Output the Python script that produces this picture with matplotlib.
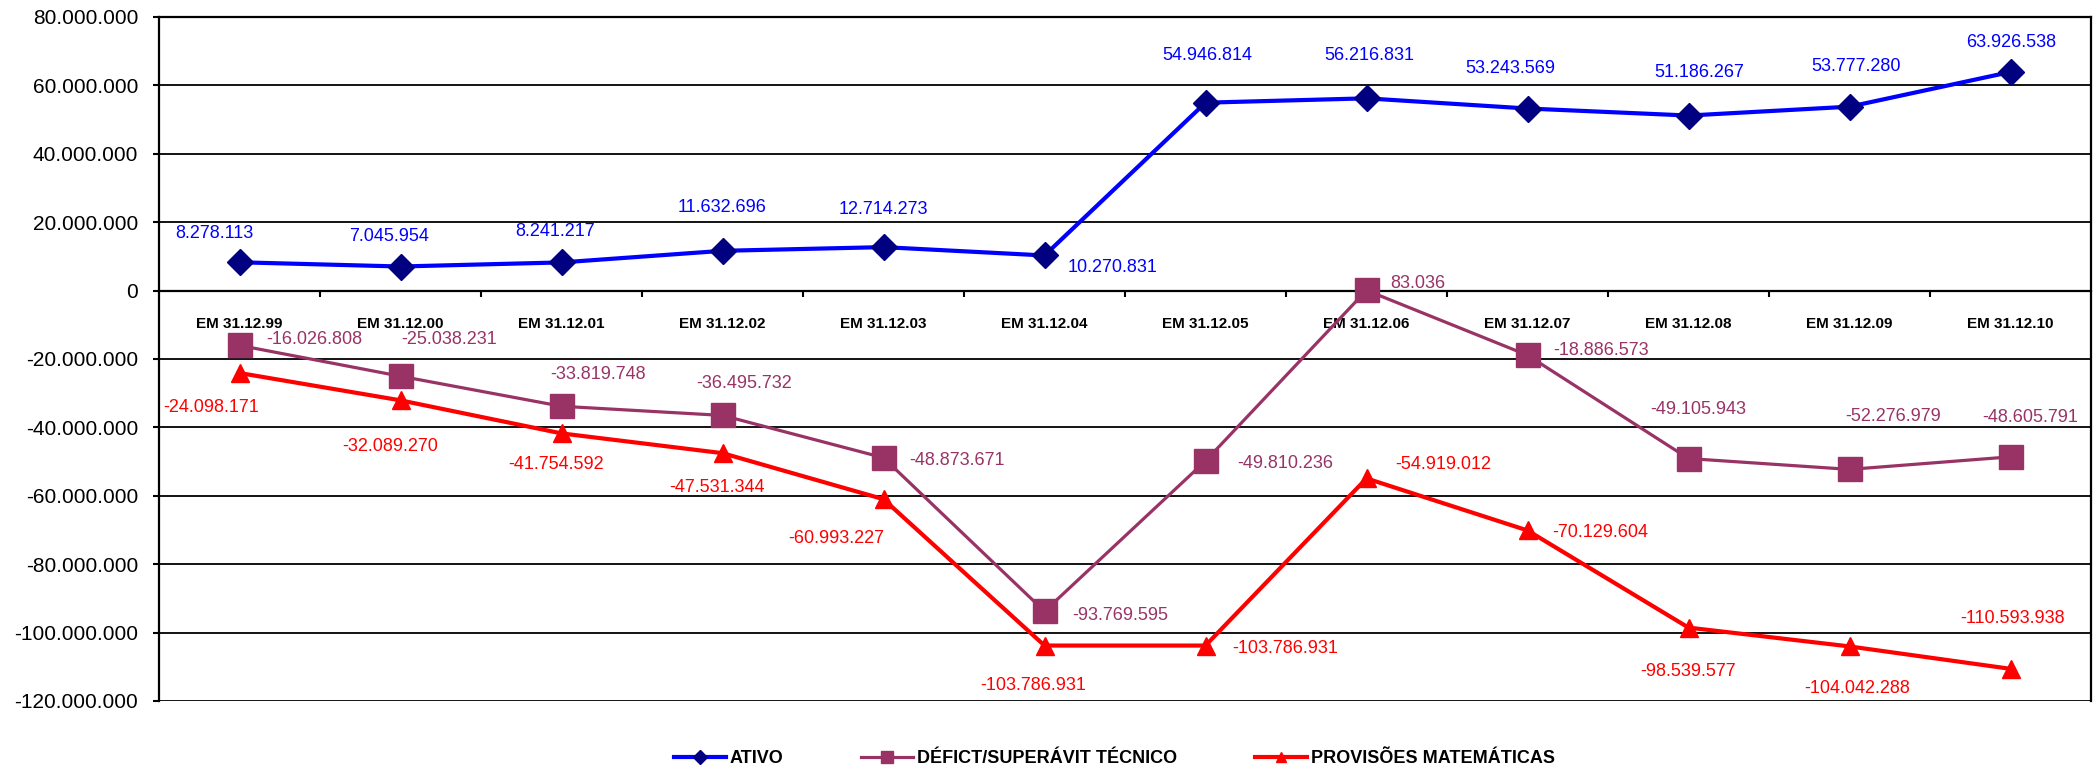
import numpy as np
import matplotlib
matplotlib.use('Agg')
import matplotlib.pyplot as plt
from matplotlib import ticker
from matplotlib import rcParams

rcParams['font.family'] = ['Liberation Sans', 'DejaVu Sans']

#%% data
categorias = ['EM 31.12.99', 'EM 31.12.00', 'EM 31.12.01', 'EM 31.12.02',
              'EM 31.12.03', 'EM 31.12.04', 'EM 31.12.05', 'EM 31.12.06',
              'EM 31.12.07', 'EM 31.12.08', 'EM 31.12.09', 'EM 31.12.10']

ativo = [8278113, 7045954, 8241217, 11632696, 12714273, 10270831,
         54946814, 56216831, 53243569, 51186267, 53777280, 63926538]

deficit = [-16026808, -25038231, -33819748, -36495732, -48873671, -93769595,
           -49810236, 83036, -18886573, -49105943, -52276979, -48605791]

provisoes = [-24098171, -32089270, -41754592, -47531344, -60993227, -103786931,
             -103786931, -54919012, -70129604, -98539577, -104042288, -110593938]

# label offsets in pixels (dx, dy down)
off_ativo = [(-25, -29), (-11, -30), (-6, -31), (0, -43), (0, -38), (68, 12),
             (2, -47), (3, -43), (-17, -40), (11, -43), (7, -40), (1, -29)]
off_deficit = [(75, -6), (49, -37), (37, -32), (22, -32), (74, 3), (76, 4),
               (80, 3), (51, -7), (74, -5), (10, -49), (44, -53), (20, -39)]
off_prov = [(-28, 34), (-10, 46), (-5, 31), (-5, 34), (-47, 39), (-11, 40),
            (80, 3), (77, -14), (73, 2), (0, 44), (8, 42), (2, -50)]

def fmt(v, pos=None):
    return f'{int(round(v)):,}'.replace(',', '.')

#%%
fig = plt.figure(figsize=(20.98, 7.71), dpi=100)
ax = fig.add_axes([159/2098, 70/771, 1932/2098, 684/771])

x = np.arange(len(categorias))

series = [
    (ativo, 'ATIVO', '#0000FF', 'D', '#000080', 13.5, 3.0, off_ativo, '#0000FF'),
    (deficit, 'DÉFICT/SUPERÁVIT TÉCNICO', '#993366', 's', '#993366', 17, 2.3, off_deficit, '#993366'),
    (provisoes, 'PROVISÕES MATEMÁTICAS', '#FF0000', '^', '#FF0000', 13.5, 3.0, off_prov, '#FF0000'),
]

for vals, lab, col, mk, mcol, ms, lw, offs, tcol in series:
    ax.plot(x, vals, color=col, linewidth=lw, marker=mk, markersize=ms,
            markerfacecolor=mcol, markeredgecolor=mcol, label=lab, zorder=4)
    for xi, v, (dx, dy) in zip(x, vals, offs):
        ax.annotate(fmt(v), (xi, v), xytext=(dx, -dy), textcoords='offset pixels',
                    ha='center', va='center', fontsize=13, color=tcol, zorder=5)

ax.set_xlim(-0.5, len(categorias) - 0.5)
ax.set_ylim(-120000000, 80000000)
ax.yaxis.set_major_locator(ticker.MultipleLocator(20000000))
ax.yaxis.set_major_formatter(ticker.FuncFormatter(fmt))
ax.grid(axis='y', color='black', linewidth=1.3)
ax.set_axisbelow(True)

# category axis crosses at zero
ax.spines['bottom'].set_position(('data', 0))
for s in ['left', 'right', 'top', 'bottom']:
    ax.spines[s].set_linewidth(1.6)
ax.set_xticks(x)
ax.set_xticklabels(categorias, fontsize=11, fontweight='bold')
ax.set_xticks(np.arange(0.5, len(categorias) - 1, 1), minor=True)
ax.tick_params(axis='x', which='major', length=0, pad=19)
ax.tick_params(axis='x', which='minor', length=4, width=1.5, direction='out')
ax.tick_params(axis='y', length=4, width=1.5, direction='out', labelsize=15, pad=11)

leg = fig.legend(loc='center', bbox_to_anchor=(0.531, 0.016), ncol=3, frameon=False,
                 prop={'size': 13, 'weight': 'bold'}, markerscale=0.55,
                 handlelength=2.9, handletextpad=0.2, columnspacing=4.3)

fig.savefig('out.png', dpi=100)
